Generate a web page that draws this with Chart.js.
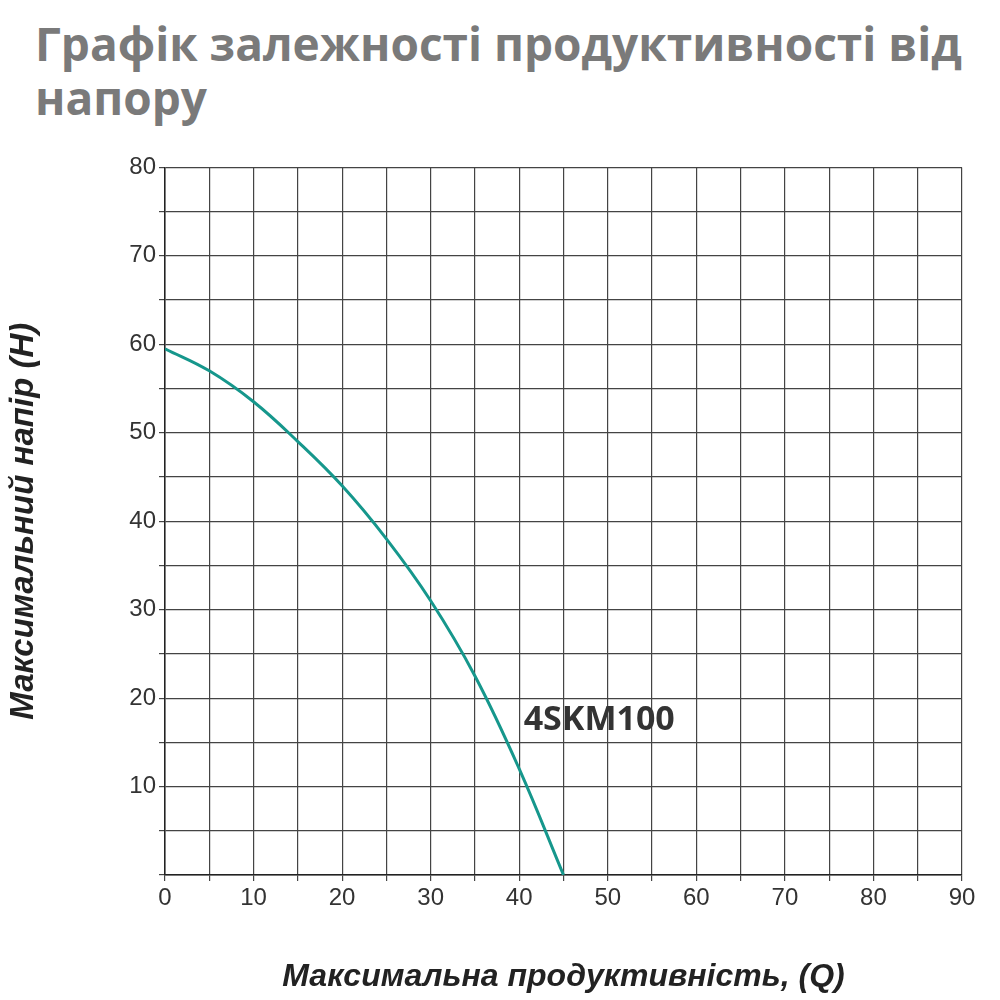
<!DOCTYPE html>
<html><head><meta charset="utf-8">
<script src="https://cdn.jsdelivr.net/npm/chart.js@4"></script>
<style>
body{margin:0;background:#fff;width:1000px;height:1000px;overflow:hidden;font-family:"Open Sans",sans-serif}
h1{position:absolute;left:35px;top:16px;margin:0;font-size:46px;line-height:54px;color:#7a7a7a;font-weight:700;width:960px}
#wrap{position:absolute;left:0;top:150px;width:1000px;height:850px}
</style></head><body>
<h1>Графік залежності продуктивності від напору</h1>
<div id="wrap"><canvas id="c"></canvas></div>
<script>
const flowQ=[0,5,10,15,20,25,30,35,40,45];
const headH=[59.5,57,53.5,49,44,38,31,22.5,12,0];
const seriesName="4SKM100";
const xTitle="Максимальна продуктивність, (Q)";
const yTitle="Максимальний напір (H)";
const labelPlugin={id:'lbl',afterDatasetsDraw(ch){
 const {ctx,scales:{x,y}}=ch;ctx.save();
 ctx.font='bold 34px "Open Sans"';ctx.fillStyle='#333';ctx.textBaseline='middle';
 ctx.fillText(seriesName,x.getPixelForValue(40.5),y.getPixelForValue(17.5));ctx.restore();}};
new Chart(document.getElementById('c'),{type:'scatter',
 data:{datasets:[{data:flowQ.map((q,i)=>({x:q,y:headH[i]})),showLine:true,tension:0.4,
  borderColor:'#16978c',borderWidth:3,pointRadius:0}]},
 options:{responsive:true,maintainAspectRatio:false,animation:false,
  layout:{padding:{left:0,right:38,top:17,bottom:0}},
  plugins:{legend:{display:false},tooltip:{enabled:false}},
  scales:{
   x:{min:0,max:90,afterFit:s=>{s.height=125;},ticks:{stepSize:5,autoSkip:false,maxRotation:0,color:'#333',font:{size:24},callback:v=>v%10===0?v:''},
    grid:{color:'#444',lineWidth:1.2,tickLength:6},border:{color:'#222',width:1.5},
    title:{display:true,text:xTitle,color:'#222',font:{size:32,style:'italic',weight:'bold'},padding:{top:8}}},
   y:{min:0,max:80,afterFit:s=>{s.width=165;},ticks:{stepSize:5,autoSkip:false,color:'#333',font:{size:24},callback:v=>v%10===0&&v>0?v:''},
    grid:{color:'#444',lineWidth:1.2,tickLength:6},border:{color:'#222',width:1.5},
    title:{display:true,text:yTitle,color:'#222',font:{size:33,style:'italic',weight:'bold'},padding:{bottom:40}}}
  }},plugins:[labelPlugin]});
</script></body></html>
